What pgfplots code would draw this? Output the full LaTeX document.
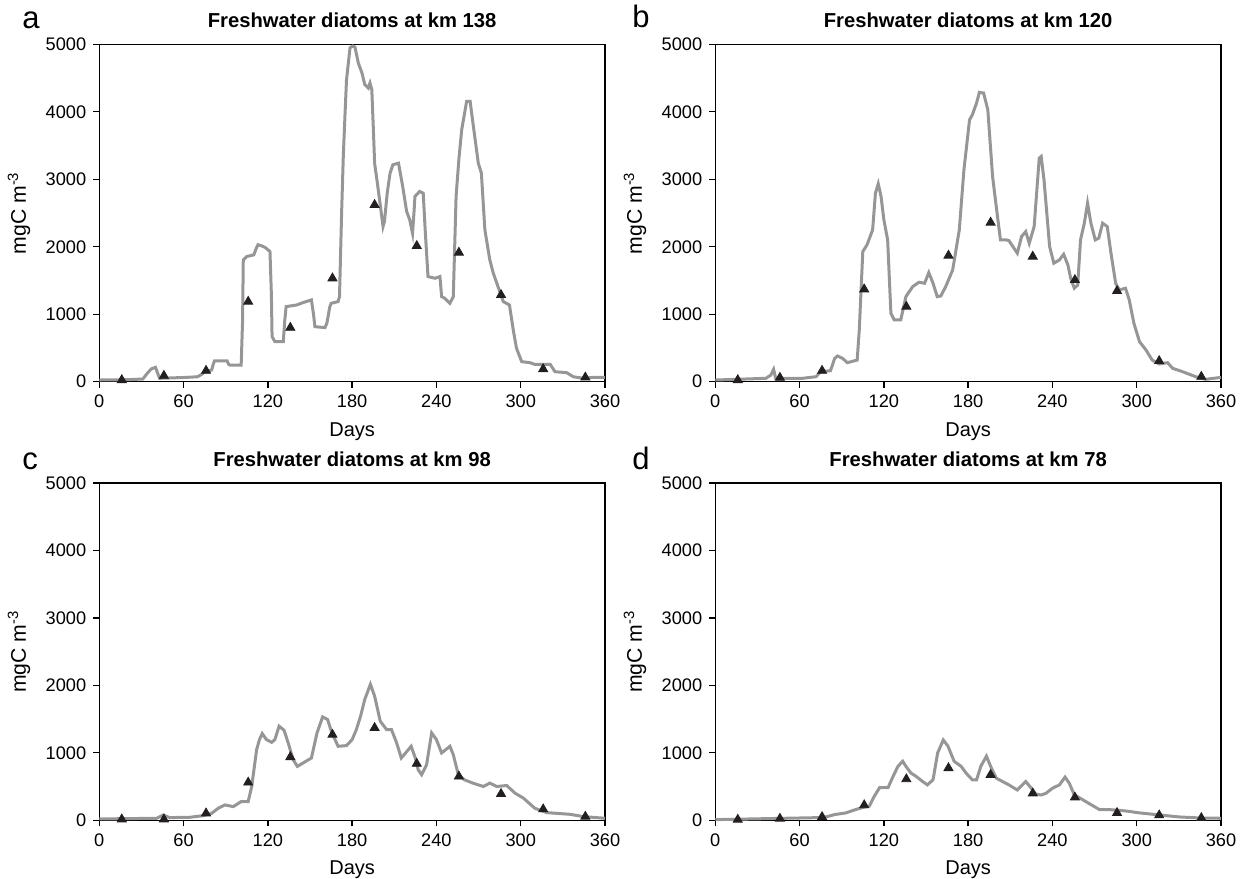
\documentclass[border=0pt]{standalone}
\usepackage{fontspec}
\setmainfont{Liberation Sans}
\usepackage{pgfplots}
\pgfplotsset{compat=1.18}

\definecolor{curve}{RGB}{150,150,150}
\definecolor{obs}{RGB}{35,31,32}

\tikzset{letter/.style={anchor=base west, inner sep=0pt, font=\fontsize{15.5}{18}\selectfont},
         ylab/.style={rotate=90, anchor=base, inner sep=0pt, font=\fontsize{10.6}{12}\selectfont}}
\pgfplotsset{
  panel/.style={
    scale only axis, width=252.85pt, height=168.7pt,
    xmin=0,xmax=360,ymin=0,ymax=5000,
    xtick={0,60,...,360}, ytick={0,1000,...,5000},
    tick align=outside, xtick pos=bottom, ytick pos=left,
    major tick length=3pt,
    axis line style={line width=0.65pt, black},
    every tick/.style={black, line width=0.65pt},
    /pgf/number format/assume math mode=true,
    /pgf/number format/1000 sep={},
    tick label style={font=\fontsize{9.1}{10}\selectfont},
    xlabel={Days},
    label style={font=\fontsize{10}{12}\selectfont},
    xlabel style={at={(axis description cs:0.5,-0.161)}, anchor=base},
    title style={at={(axis description cs:0.5,1.0134)}, anchor=base, yshift=0pt, font=\bfseries\fontsize{10.1}{11}\selectfont},
    clip=false,
  },
  model/.style={color=curve, line width=1.5pt, no markers},
  data/.style={only marks, mark=triangle*, mark size=2.6pt, color=obs},
}

\begin{document}
\begin{tikzpicture}
% ---------------- a ----------------
\begin{axis}[panel, at={(0pt,0pt)}, anchor=south west, title={Freshwater diatoms at km 138}]
\addplot[model] coordinates {
(0,25)(20,30)(31,40)(34,120)(37,190)(40,213)(42,100)(43,50)(62,64)(70,74)(73,110)(75,150)(80,173)(81,250)(82,310)(91,310)(92,260)(93,247)(101,247)(102,900)(102.5,1805)(105,1855)(110,1880)(112,1990)(113,2030)(115.6,2013)(118,1990)(121.5,1930)(122.5,1300)(123,668)(125,593)(131,593)(132,900)(133,1113)(140.5,1137)(145,1172)(151,1212)(152.5,1000)(153.5,816)(160.6,801)(162,865)(164,1100)(165,1162)(170,1187)(171,1261)(172.5,2500)(173.7,3338)(175,4000)(176,4476)(178.5,4950)(180.5,4975)(182,4960)(184.4,4723)(187,4575)(189,4402)(191.5,4352)(192.7,4426)(194,4328)(195,3800)(196,3239)(198.6,2844)(202,2300)(203,2374)(205,2800)(207,3091)(209,3215)(213,3239)(216,2893)(218.8,2522)(221,2399)(223,2200)(224,2500)(224.7,2745)(228,2819)(230.6,2794)(232,2250)(234,1558)(239,1533)(242.5,1558)(243.7,1261)(246,1236)(249.6,1162)(252,1261)(253,2000)(254,2745)(256,3300)(258,3734)(261.5,4154)(264,4154)(266,3833)(269.8,3239)(272,3091)(274.5,2250)(278,1805)(280.5,1607)(283,1459)(287.6,1187)(292,1137)(294.7,767)(297,495)(300.7,297)(306.6,282)(310,257)(321,257)(324.4,148)(332.7,134)(337.4,74)(344.6,50)(351.7,64)(360,64)
};
\addplot[data] coordinates {
(16,25)(46,89)(76,163)(106,1187)(136,801)(166,1533)(196,2621)(226,2013)(256,1914)(286,1286)(316,188)(346,64)
};
\node[letter] at (rel axis cs:-0.153,1.048) {a};
\node[ylab] at (rel axis cs:-0.145,0.5) {mgC m\textsuperscript{-3}};
\end{axis}
% ---------------- b ----------------
\begin{axis}[panel, at={(308pt,0pt)}, anchor=south west, title={Freshwater diatoms at km 120}]
\addplot[model] coordinates {
(0,25)(36,50)(39.6,99)(41.5,183)(43,50)(62,50)(71.7,74)(75,148)(82,163)(85,346)(87,381)(90.6,346)(94,282)(101,321)(102.5,767)(105,1929)(108,2028)(112,2250)(114,2794)(116,2933)(118,2745)(120,2399)(122.7,2102)(125,1014)(127.4,915)(132,915)(135.7,1261)(140.5,1409)(145,1474)(149,1459)(152,1617)(155,1459)(158,1261)(160.6,1271)(164,1409)(169,1657)(173.7,2250)(177,3140)(181,3882)(183,3956)(186,4130)(188,4288)(191,4278)(194,4030)(197.4,3041)(200,2596)(203,2102)(207,2102)(209,2092)(215,1904)(218,2151)(221,2225)(223.5,2052)(227,2300)(230.6,3313)(232,3338)(234,2992)(238,2003)(241,1756)(245,1805)(248,1889)(251,1731)(253,1533)(255.6,1385)(258,1434)(260,2102)(262.7,2349)(265,2646)(267.4,2349)(270.5,2102)(273,2127)(275.7,2349)(279,2300)(281.7,1904)(285,1459)(287.6,1360)(292,1385)(294.7,1212)(298,865)(302,593)(306.6,470)(311,321)(316,262)(322,282)(325.6,198)(332.7,148)(342,74)(349,35)(360,64)
};
\addplot[data] coordinates {
(16,25)(46,59)(76,163)(106,1370)(136,1113)(166,1870)(196,2359)(226,1855)(256,1508)(286,1345)(316,307)(346,74)
};
\node[letter] at (rel axis cs:-0.165,1.050) {b};
\node[ylab] at (rel axis cs:-0.145,0.5) {mgC m\textsuperscript{-3}};
\end{axis}
% ---------------- c ----------------
\begin{axis}[panel, at={(0pt,-219.3pt)}, anchor=south west, title={Freshwater diatoms at km 98}]
\addplot[model] coordinates {
(0,20)(40.8,30)(45.6,79)(50,40)(64.5,45)(74,69)(80,104)(84.7,179)(89.5,228)(95.4,203)(101,278)(106,278)(108.5,501)(112,1047)(114,1196)(116,1285)(119,1196)(122.7,1156)(125,1196)(128,1395)(131.5,1335)(134.5,1146)(138,898)(141,799)(145,849)(151,923)(155,1295)(159,1533)(162.5,1494)(165.6,1295)(170,1097)(176,1107)(180,1196)(183,1345)(186,1543)(189,1792)(193,2015)(196,1841)(200,1469)(204.5,1345)(208,1345)(211.7,1146)(215,923)(219,1022)(222,1097)(225,923)(227,749)(229.5,675)(233,824)(236.6,1295)(240,1196)(243.7,998)(249.6,1097)(252,973)(255.6,675)(260,600)(266,551)(273.4,501)(278,551)(283,501)(290,516)(296,402)(302,328)(310,179)(318.5,114)(335,89)(344.6,55)(360,30)
};
\addplot[data] coordinates {
(16,15)(46,15)(76,104)(106,561)(136,938)(166,1270)(196,1370)(226,839)(256,650)(286,392)(316,164)(346,55)
};
\node[letter] at (rel axis cs:-0.153,1.039) {c};
\node[ylab] at (rel axis cs:-0.145,0.5) {mgC m\textsuperscript{-3}};
\end{axis}
% ---------------- d ----------------
\begin{axis}[panel, at={(308pt,-219.3pt)}, anchor=south west, title={Freshwater diatoms at km 78}]
\addplot[model] coordinates {
(0,10)(62,35)(74,40)(78.8,50)(85,85)(93,110)(100,160)(105,190)(109.6,210)(113,350)(117,485)(123,485)(126,625)(130,800)(133.4,875)(135.7,800)(139.3,700)(143,650)(147.6,575)(151,525)(155,600)(158.3,1000)(162.3,1190)(165.6,1100)(170,875)(175,800)(178.5,700)(183,600)(186,600)(189,800)(193,950)(196,800)(200,625)(204.5,575)(209,525)(215,450)(221,575)(225,475)(228,390)(232,375)(235.4,400)(240,475)(245,525)(249,640)(252,550)(255.6,375)(260,325)(266,250)(273.4,160)(279.3,160)(286.5,150)(293.5,135)(302,110)(313.6,85)(330,50)(344.6,35)(360,30)
};
\addplot[data] coordinates {
(16,10)(46,25)(76,50)(106,225)(136,610)(166,775)(196,675)(226,400)(256,340)(286,110)(316,75)(346,35)
};
\node[letter] at (rel axis cs:-0.165,1.039) {d};
\node[ylab] at (rel axis cs:-0.145,0.5) {mgC m\textsuperscript{-3}};
\end{axis}
\pgfresetboundingbox
\path[use as bounding box] (-49.65pt,-248.65pt) rectangle (572.35pt,190.85pt);
\end{tikzpicture}
\end{document}
